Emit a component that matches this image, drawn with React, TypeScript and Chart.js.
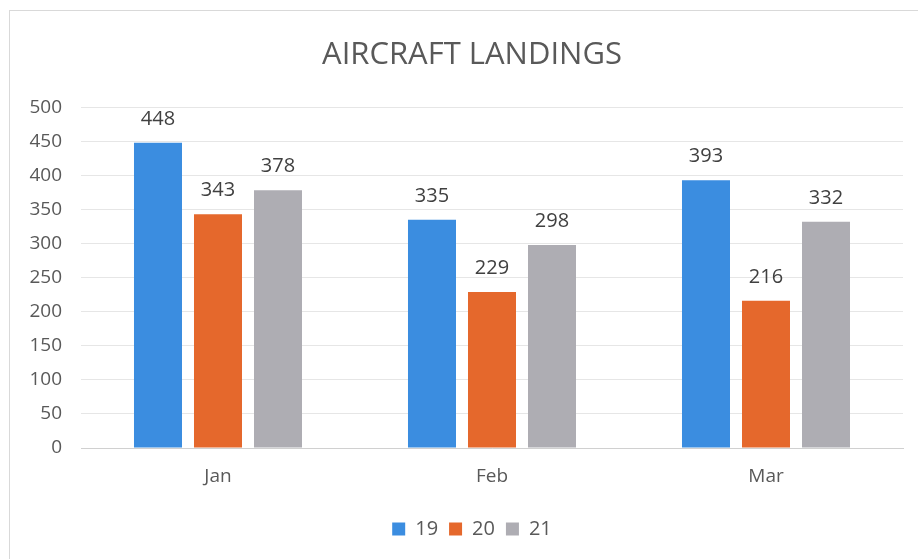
import React, { useEffect, useRef } from "react";
import { Chart, registerables } from "chart.js";

Chart.register(...registerables);

const categories = ["Jan", "Feb", "Mar"];
const seriesNames = ["19", "20", "21"];
const values19 = [448, 335, 393];
const values20 = [343, 229, 216];
const values21 = [378, 298, 332];
const colors = ["#3b8de0", "#e5682c", "#aeadb3"];

const FONT = "'Open Sans', sans-serif";

const dataLabels = {
  id: "dataLabels",
  afterDatasetsDraw(chart: any) {
    const ctx = chart.ctx;
    ctx.save();
    ctx.font = `20px ${FONT}`;
    ctx.fillStyle = "#404040";
    ctx.textAlign = "center";
    ctx.textBaseline = "alphabetic";
    chart.data.datasets.forEach((ds: any, i: number) => {
      const meta = chart.getDatasetMeta(i);
      meta.data.forEach((bar: any, j: number) => {
        ctx.fillText(String(ds.data[j]), bar.x, bar.y - 18);
      });
    });
    ctx.restore();
  },
};

const frame = {
  id: "frame",
  beforeDraw(chart: any) {
    const ctx = chart.ctx;
    ctx.save();
    ctx.fillStyle = "#ffffff";
    ctx.fillRect(0, 0, chart.width, chart.height);
    ctx.strokeStyle = "#d9d9d9";
    ctx.lineWidth = 1;
    ctx.strokeRect(9.5, 10.5, chart.width - 8, chart.height);
    ctx.restore();
  },
};

export default function App() {
  const ref = useRef<HTMLCanvasElement>(null);
  useEffect(() => {
    const chart = new Chart(ref.current!, {
      type: "bar",
      data: {
        labels: categories,
        datasets: [values19, values20, values21].map((d, i) => ({
          label: seriesNames[i],
          data: d,
          backgroundColor: colors[i],
          barPercentage: 0.8,
          categoryPercentage: 0.657,
        })),
      },
      options: {
        animation: false,
        responsive: false,
        layout: { padding: { left: 10, right: 12, top: 10, bottom: 10 } },
        plugins: {
          title: {
            display: true,
            text: "AIRCRAFT LANDINGS",
            color: "#595959",
            font: { family: FONT, size: 31, weight: "normal" },
            padding: { top: 27, bottom: 33 },
          },
          legend: {
            position: "bottom",
            labels: {
              color: "#595959",
              font: { family: FONT, size: 20 },
              boxWidth: 13,
              boxHeight: 13,
              padding: 11,
            },
          },
          tooltip: { enabled: false },
        },
        scales: {
          x: {
            afterFit(scale: any) {
              scale.height = 60;
            },
            grid: { display: false, drawTicks: false },
            border: { color: "#d0d0d0" },
            ticks: { color: "#595959", font: { family: FONT, size: 19 }, padding: 17 },
          },
          y: {
            min: 0,
            max: 500,
            afterFit(scale: any) {
              scale.width = 71;
            },
            grid: { color: "#e6e6e6", drawTicks: false },
            border: { display: false },
            ticks: {
              stepSize: 50,
              color: "#595959",
              font: { family: FONT, size: 19 },
              padding: 19,
            },
          },
          yRight: {
            type: "linear",
            position: "right",
            min: 0,
            max: 500,
            afterFit(scale: any) {
              scale.width = 31;
            },
            grid: { display: false, drawTicks: false },
            border: { display: false },
            ticks: { display: false },
          },
        },
      },
      plugins: [frame, dataLabels],
    });
    return () => chart.destroy();
  }, []);
  return (
    <div
      style={{
        position: "fixed",
        left: 0,
        top: 0,
        width: 918,
        height: 559,
        overflow: "hidden",
        background: "#fff",
      }}
    >
      <canvas ref={ref} width={946} height={559} style={{ display: "block" }} />
    </div>
  );
}
